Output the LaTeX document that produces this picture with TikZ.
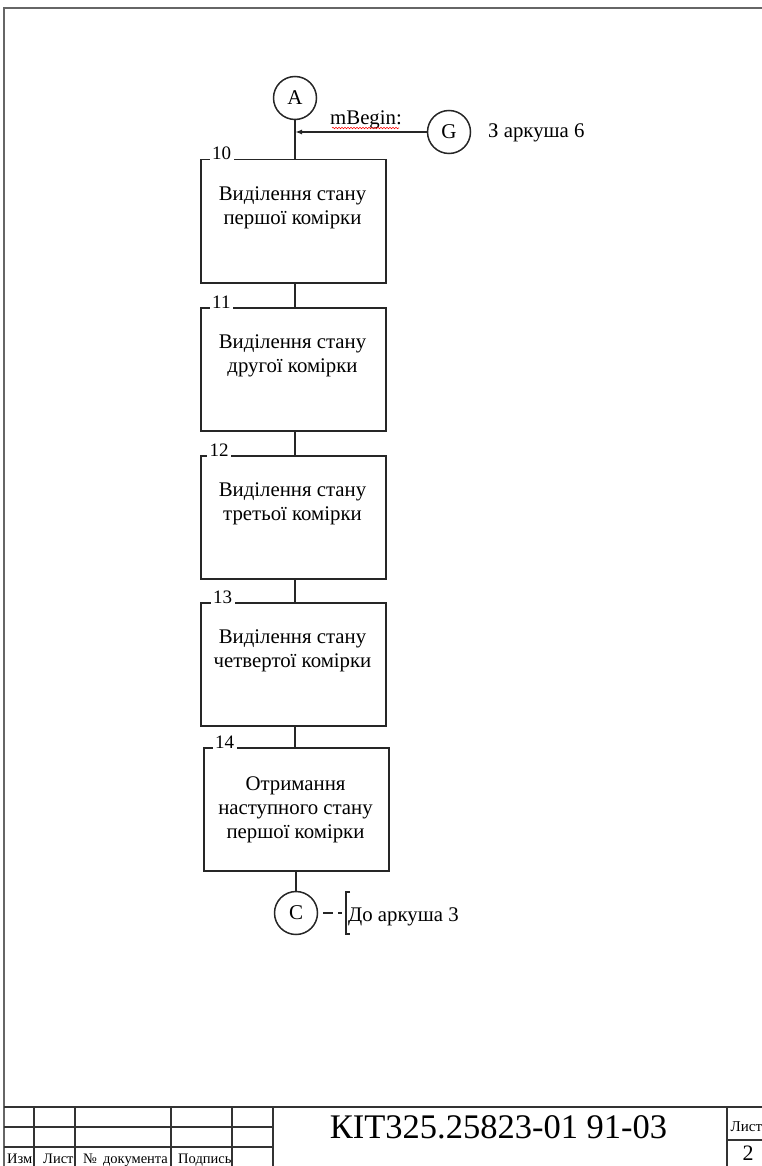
\documentclass[tikz,border=0pt]{standalone}
\usepackage{fontspec}
\setmainfont{Liberation Serif}
\usetikzlibrary{arrows.meta,decorations.pathmorphing}
\begin{document}
\begin{tikzpicture}[x=1pt,y=-1pt,
  line/.style={draw=black!85,line width=1.5pt},
  stepbox/.style={draw=black!85,line width=1.5pt,minimum width=185pt,minimum height=123pt,inner sep=0pt,anchor=north west},
  boxtext/.style={font=\fontsize{20.8}{24}\selectfont,align=center,inner sep=0pt},
  num/.style={font=\fontsize{19}{21}\selectfont,fill=white,inner sep=2.5pt,anchor=base west},
  conn/.style={circle,draw=black!85,line width=1.5pt,minimum size=43pt,inner sep=0pt,font=\fontsize{21}{23}\selectfont},
  plain/.style={font=\fontsize{20.8}{23}\selectfont,inner sep=0pt},
  frame/.style={draw=black!60,line width=2.2pt},
  tb/.style={draw=black!80,line width=1.7pt},
  small/.style={font=\fontsize{14.5}{16}\selectfont,inner sep=0pt,anchor=base west},
]
\useasboundingbox (0,0) rectangle (762,1166);
\clip (0,0) rectangle (762,1166);
% frame
\draw[frame] (4,1190) -- (4,8) -- (790,8);
% title block
\draw[tb] (4,1107) -- (790,1107);
\draw[tb] (4,1127) -- (273,1127);
\draw[tb] (4,1147) -- (273,1147);
\foreach \xx in {34,75,171,232,273} {\draw[tb] (\xx,1107) -- (\xx,1190);}
\draw[tb] (727,1107) -- (727,1190);
\draw[tb] (727,1140) -- (790,1140);
\node[small] (t1) at (7,1163.5) {Изм};
\node[small] (t2) at (43,1163.5) {Лист};
\node[small] (t3) at (83,1163.5) {№\hspace{6pt}документа};
\node[small] (t4) at (178,1163.5) {Подпись};
\node[font=\fontsize{34.5}{36}\selectfont,inner sep=0pt,anchor=base] (title) at (498.5,1138) {КІТ325.25823-01 91-03};
\node[font=\fontsize{15}{17}\selectfont,inner sep=0pt,anchor=base west] (ls) at (730.5,1131) {Лист};
\node[font=\fontsize{22}{24}\selectfont,inner sep=0pt,anchor=base] (pg) at (748,1160) {2};

% boxes
\node[stepbox] (b10) at (200,159) {};
\node[stepbox] (b11) at (200,307) {};
\node[stepbox] (b12) at (200,455) {};
\node[stepbox] (b13) at (200,602) {};
\node[stepbox] (b14) at (203,747) {};
\node[boxtext] (x10) at (292.5,208) {Виділення стану\\першої комірки};
\node[boxtext] (x11) at (292.5,356) {Виділення стану\\другої комірки};
\node[boxtext] (x12) at (292.5,504) {Виділення стану\\третьої комірки};
\node[boxtext] (x13) at (292.5,651) {Виділення стану\\четвертої комірки};
\node[boxtext] (x14) at (295.5,810) {Отримання\\наступного стану\\першої комірки};
\node[num] (n10) at (209.5,160) {10};
\node[num] (n11) at (209.5,308) {11};
\node[num] (n12) at (207,456) {12};
\node[num] (n13) at (210.5,603) {13};
\node[num] (n14) at (212.5,748) {14};

% connectors
\node[conn] (A) at (295,98) {A};
\node[conn] (G) at (449,132) {G};
\node[conn] (C) at (296,913) {C};
\draw[line] (A) -- (A |- b10.north);
\draw[line] (b10.south -| A) -- (b11.north -| A);
\draw[line] (b11.south -| A) -- (b12.north -| A);
\draw[line] (b12.south -| A) -- (b13.north -| A);
\draw[line] (b13.south -| A) -- (b14.north -| A);
\draw[line] (C |- b14.south) -- (C);
\draw[line,-{Latex[length=7pt,width=5pt]}] (G) -- (A |- G);
\node[plain,anchor=base west] (mb) at (330,125) {mBegin:};
\draw[red,line width=0.6pt,decorate,decoration={snake,amplitude=0.7pt,segment length=3pt}] ([yshift=-3pt,xshift=2pt]mb.base west) -- ([yshift=-3pt,xshift=-3pt]mb.base east);
\node[plain,anchor=base west] (z6) at (488,138) {З аркуша 6};

\coordinate (br) at (346,913);
\draw[line,line width=1.3pt,dash pattern=on 0pt off 5pt on 10pt off 5pt on 4pt off 20pt] (C) -- (br);
\draw[line,line width=1.3pt] (br) ++(4,-21) -- ++(-4,0) -- ++(0,42) -- ++(4,0);
\node[plain,anchor=base west] (d3) at (348,921) {До аркуша 3};
\end{tikzpicture}
\end{document}
